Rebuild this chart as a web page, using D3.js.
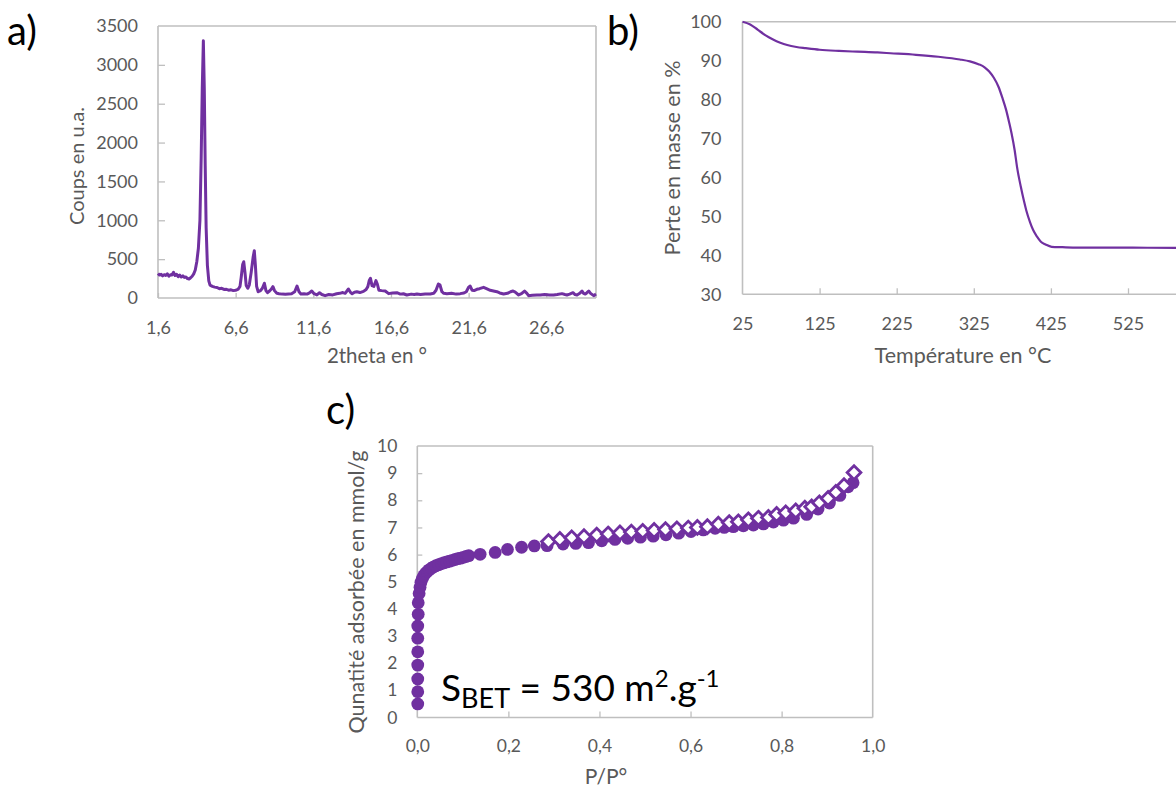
<!DOCTYPE html>
<html>
<head>
<meta charset="utf-8">
<script src="https://cdn.jsdelivr.net/npm/d3@7"></script>
<style>
  html, body { margin: 0; padding: 0; background: #ffffff; }
  svg { display: block; font-family: Lato, "Open Sans", sans-serif; }
</style>
</head>
<body>
<svg id="chart" width="1176" height="790"></svg>
<script>
// ---------------- Panel a) XRD ----------------
const xrdTheta = [1.6,1.7,1.8,1.9,2.0,2.1,2.2,2.3,2.4,2.5,2.6,2.7,2.8,2.9,3.0,3.1,3.2,3.3,3.4,3.5,3.6,3.7,3.8,3.9,4.0,4.1,4.2,4.3,4.38,4.45,4.52,4.58,4.64,4.7,4.78,4.87,4.95,5.1,5.25,5.4,5.55,5.7,5.85,6.0,6.15,6.3,6.45,6.6,6.75,6.88,6.96,7.05,7.12,7.2,7.28,7.38,7.48,7.6,7.72,7.8,7.87,7.95,8.05,8.2,8.32,8.45,8.55,8.65,8.78,8.9,9.0,9.1,9.25,9.4,9.6,9.8,10.0,10.2,10.4,10.55,10.68,10.8,11.0,11.2,11.35,11.5,11.65,11.83,12.0,12.15,12.36,12.6,12.85,13.1,13.3,13.5,13.65,13.86,14.0,14.1,14.25,14.4,14.6,14.83,15.0,15.11,15.2,15.28,15.38,15.5,15.63,15.72,15.82,16.0,16.23,16.45,16.7,16.98,17.2,17.4,17.62,17.9,18.1,18.27,18.5,18.8,19.13,19.35,19.5,19.65,19.75,19.88,20.0,20.2,20.5,20.8,21.06,21.3,21.45,21.6,21.7,21.82,21.95,22.13,22.3,22.56,22.75,22.99,23.2,23.42,23.6,23.85,24.1,24.3,24.46,24.6,24.82,25.0,25.2,25.35,25.46,25.7,26.0,26.21,26.5,26.8,27.07,27.3,27.61,27.8,27.93,28.1,28.32,28.45,28.58,28.75,28.9,29.0,29.11,29.2,29.33,29.45,29.65,29.8];
const xrdCounts = [315,295,305,285,300,290,310,280,300,295,330,290,305,275,295,270,285,265,270,250,245,260,280,310,360,470,640,1000,1800,2700,3311,2700,1700,900,420,220,165,150,140,135,120,125,110,112,100,105,95,100,110,150,270,430,467,330,160,125,170,330,520,609,420,150,80,95,125,190,95,68,90,115,146,95,60,55,50,48,52,55,80,154,80,52,55,50,65,90,55,40,68,45,30,45,40,55,60,70,60,116,70,56,75,81,70,85,110,146,225,253,160,150,223,180,100,95,90,56,65,68,50,55,39,50,45,51,45,50,51,60,100,180,170,81,60,56,60,50,56,65,81,140,154,100,95,112,120,137,120,99,90,81,65,51,60,80,90,75,39,55,90,60,30,35,40,39,45,40,39,45,56,45,39,50,68,45,39,60,90,60,51,65,90,60,30,51];
const xrdXTicks = [1.6, 6.6, 11.6, 16.6, 21.6, 26.6];
const xrdYTicks = [0, 500, 1000, 1500, 2000, 2500, 3000, 3500];

// ---------------- Panel b) TGA ----------------
const tgaTemp = [25,35,45,55,64,74,83,95,107,125,150,174,200,217,250,279,307,320,331,339,345,351,357,362,367,371,374,378,381,386,390,393,398,402,407,412,418,426,440,460,500,550,610];
const tgaMass = [100,99.3,97.9,96.5,95.5,94.6,94.0,93.5,93.2,92.8,92.5,92.3,92.1,91.9,91.5,91.0,90.3,89.8,89.1,88.3,87.2,85.6,83.3,80.5,77.3,74.0,71.3,67.0,62.8,57.6,54.0,51.6,48.5,46.5,44.8,43.5,42.8,42.2,42.1,42.0,42.0,41.95,41.9];
const tgaXTicks = [25, 125, 225, 325, 425, 525];
const tgaYTicks = [30, 40, 50, 60, 70, 80, 90, 100];

// ---------------- Panel c) N2 isotherm ----------------
const adsP = [0.001,0.001,0.001,0.001,0.001,0.001,0.001,0.002,0.002,0.004,0.006,0.008,0.011,0.014,0.018,0.022,0.026,0.031,0.036,0.041,0.047,0.053,0.059,0.065,0.071,0.077,0.083,0.089,0.095,0.101,0.107,0.113,0.138,0.171,0.198,0.229,0.257,0.285,0.32,0.348,0.376,0.405,0.434,0.462,0.49,0.518,0.546,0.574,0.601,0.628,0.654,0.674,0.694,0.716,0.738,0.76,0.782,0.804,0.826,0.855,0.88,0.905,0.928,0.946,0.957];
const adsQ = [0.5,0.95,1.42,1.93,2.42,2.92,3.37,3.8,4.23,4.57,4.8,4.98,5.12,5.22,5.31,5.38,5.44,5.5,5.55,5.59,5.63,5.67,5.7,5.73,5.76,5.79,5.82,5.85,5.87,5.9,5.93,5.96,6.01,6.08,6.19,6.27,6.32,6.33,6.39,6.41,6.44,6.51,6.56,6.6,6.64,6.68,6.73,6.79,6.85,6.91,6.97,7.0,7.03,7.06,7.09,7.13,7.2,7.27,7.34,7.48,7.68,7.9,8.18,8.5,8.65];
const desP = [0.288,0.313,0.339,0.366,0.394,0.419,0.445,0.47,0.495,0.52,0.545,0.57,0.595,0.615,0.637,0.661,0.685,0.705,0.727,0.749,0.771,0.789,0.809,0.831,0.851,0.866,0.883,0.902,0.919,0.937,0.959];
const desQ = [6.48,6.56,6.62,6.66,6.72,6.76,6.8,6.83,6.86,6.89,6.92,6.95,6.98,7.0,7.03,7.12,7.18,7.21,7.28,7.34,7.37,7.48,7.54,7.61,7.71,7.76,7.91,8.07,8.29,8.54,9.02];
const isoXTicks = [0, 0.2, 0.4, 0.6, 0.8, 1.0];
const isoYTicks = [0,1,2,3,4,5,6,7,8,9,10];

const PURPLE = "#7030A0";
const GRID = "#BFBFBF";
const TXT = "#595959";
const fmtComma1 = v => d3.format(".1f")(v).replace(".", ",");

const svg = d3.select("#chart");
svg.append("rect").attr("width", 1176).attr("height", 790).attr("fill", "#fff");

function styleAxis(g, fs) {
  g.select(".domain").remove();
  g.selectAll(".tick line").attr("stroke", GRID).attr("stroke-width", 1.3);
  g.selectAll(".tick text").attr("fill", TXT).style("font-size", fs + "px").style("font-family", "Lato, sans-serif");
}
function frame(x0, y0, x1, y1, sides) {
  const g = svg.append("g");
  const L = (a, b, c, d) => g.append("line").attr("x1", a).attr("y1", b).attr("x2", c).attr("y2", d)
    .attr("stroke", GRID).attr("stroke-width", 1.6);
  if (sides.includes("t")) L(x0, y0, x1, y0);
  if (sides.includes("r")) L(x1, y0, x1, y1);
  if (sides.includes("l")) L(x0, y0, x0, y1);
  if (sides.includes("b")) L(x0, y1, x1, y1);
}
function label(txt, x, y, size, rotate, color) {
  const t = svg.append("text").text(txt).attr("fill", color || TXT).style("font-size", size + "px")
    .attr("text-anchor", "middle");
  if (rotate) t.attr("transform", `translate(${x},${y}) rotate(-90)`);
  else t.attr("x", x).attr("y", y);
  return t;
}

// ===== Panel a =====
{
  const x = d3.scaleLinear().domain([1.6, 29.8]).range([158, 596]);
  const y = d3.scaleLinear().domain([0, 3500]).range([298, 26]);
  frame(158, 26, 596, 298, "trlb");
  const gx = svg.append("g").attr("transform", "translate(0,298)")
    .call(d3.axisBottom(x).tickValues(xrdXTicks).tickSize(-5).tickPadding(23).tickFormat(fmtComma1));
  styleAxis(gx, 18);
  const gy = svg.append("g").attr("transform", "translate(158,0)")
    .call(d3.axisLeft(y).tickValues(xrdYTicks).tickSize(-7).tickPadding(20).tickFormat(d3.format("d")));
  styleAxis(gy, 18);
  gy.selectAll(".tick line").filter(d => d === 0 || d === 3500).remove();
  const line = d3.line().x((d, i) => x(xrdTheta[i])).y(d => y(d));
  svg.append("path").datum(xrdCounts).attr("d", line).attr("fill", "none")
    .attr("stroke", PURPLE).attr("stroke-width", 3).attr("stroke-linejoin", "round");
  label("2theta en °", 377, 363, 20.5);
  label("Coups en u.a.", 84, 166, 20, true);
  svg.append("text").text("a)").attr("x", 7).attr("y", 45).style("font-size", "40px").attr("fill", "#000");
}

// ===== Panel b =====
{
  const x = d3.scaleLinear().domain([25, 610]).range([742.5, 742.5 + 585 * 0.771]);
  const y = d3.scaleLinear().domain([30, 100]).range([294.3, 21.7]);
  frame(742.5, 21.7, 1200, 294.3, "tlb");
  const gx = svg.append("g").attr("transform", "translate(0,294.3)")
    .call(d3.axisBottom(x).tickValues(tgaXTicks).tickSize(-6).tickPadding(23).tickFormat(d3.format("d")));
  styleAxis(gx, 18);
  gx.selectAll(".tick line").filter(d => d === 25).remove();
  const gy = svg.append("g").attr("transform", "translate(742.5,0)")
    .call(d3.axisLeft(y).tickValues(tgaYTicks).tickSize(0).tickPadding(21).tickFormat(d3.format("d")));
  styleAxis(gy, 18);
  const line = d3.line().curve(d3.curveMonotoneX).x((d, i) => x(tgaTemp[i])).y(d => y(d));
  svg.append("path").datum(tgaMass).attr("d", line).attr("fill", "none")
    .attr("stroke", PURPLE).attr("stroke-width", 2.2);
  label("Température en °C", 963, 363, 21.5);
  label("Perte en masse en %", 680, 158, 21.5, true);
  svg.append("text").text("b)").attr("x", 607).attr("y", 45).style("font-size", "40px").attr("fill", "#000");
}

// ===== Panel c =====
{
  const x = d3.scaleLinear().domain([0, 1]).range([417.3, 872.7]);
  const y = d3.scaleLinear().domain([0, 10]).range([717.5, 446]);
  frame(417.3, 446, 872.7, 717.5, "trlb");
  const gx = svg.append("g").attr("transform", "translate(0,717.5)")
    .call(d3.axisBottom(x).tickValues(isoXTicks).tickSize(-6).tickPadding(22).tickFormat(fmtComma1));
  styleAxis(gx, 17.5);
  gx.selectAll(".tick line").filter(d => d === 0 || d === 1).remove();
  const gy = svg.append("g").attr("transform", "translate(417.3,0)")
    .call(d3.axisLeft(y).tickValues(isoYTicks).tickSize(-5).tickPadding(20).tickFormat(d3.format("d")));
  styleAxis(gy, 17.5);
  gy.selectAll(".tick line").filter(d => d === 0 || d === 10).remove();

  svg.append("g").selectAll("circle").data(adsQ).join("circle")
    .attr("cx", (d, i) => x(adsP[i])).attr("cy", d => y(d)).attr("r", 6.4).attr("fill", PURPLE);
  const diamond = d3.symbol().type(d3.symbolDiamond2).size(120);
  svg.append("g").selectAll("path").data(desQ).join("path")
    .attr("d", diamond)
    .attr("transform", (d, i) => `translate(${x(desP[i])},${y(d)})`)
    .attr("fill", "#fff").attr("stroke", PURPLE).attr("stroke-width", 2.8);

  label("P/P°", 606, 784, 21);
  label("Qunatité adsorbée en mmol/g", 364, 592, 21.5, true);
  svg.append("text").text("c)").attr("x", 326).attr("y", 424).style("font-size", "40px").attr("fill", "#000");

  const ann = svg.append("text").attr("x", 441).attr("y", 701).attr("fill", "#000").style("font-size", "37px");
  ann.append("tspan").text("S");
  ann.append("tspan").text("BET").style("font-size", "27px").attr("dy", 7);
  ann.append("tspan").text(" = 530 m").attr("dy", -7);
  ann.append("tspan").text("2").style("font-size", "24px").attr("dy", -14);
  ann.append("tspan").text(".g").attr("dy", 14);
  ann.append("tspan").text("-1").style("font-size", "24px").attr("dy", -14);
}
</script>
</body>
</html>
